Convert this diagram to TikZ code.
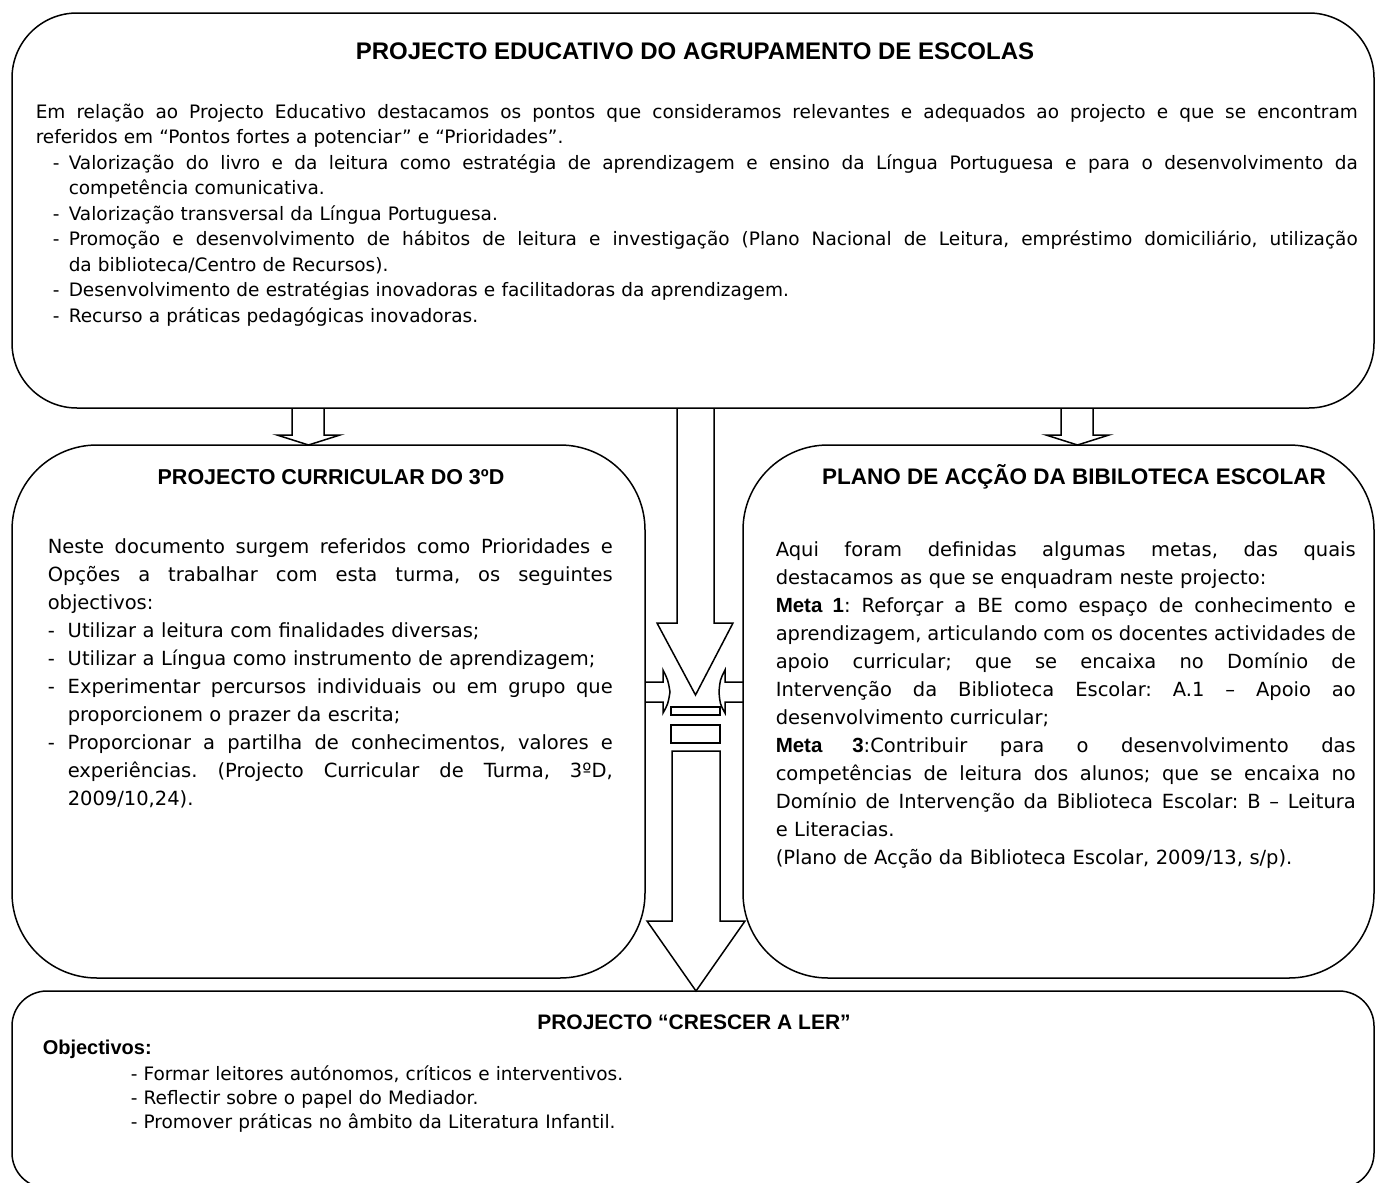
\documentclass[tikz,border=0pt]{standalone}
\usepackage{fontspec}
\setmainfont{DejaVu Sans}
\newfontfamily\arialfont{Liberation Sans}
\frenchspacing
\newcommand{\jl}[1]{\makebox[\linewidth][s]{\spaceskip=0pt\xspaceskip=0pt\relax#1}}
\newcommand{\dsh}[1]{\makebox[#1][l]{-}}
\newcommand{\meta}[1]{{\arialfont\bfseries\fontsize{20.5}{28}\selectfont #1}}
\begin{document}
\begin{tikzpicture}[x=1pt,y=-1pt,line width=1.5pt,line join=miter,
  ttl/.style={font=\arialfont\bfseries\fontsize{21.5}{25}\selectfont,inner sep=0pt,anchor=base},
  txt/.style={inner sep=0pt,anchor=base west,align=left,font=\fontsize{19.5}{28}\selectfont}]
\useasboundingbox (0,0) rectangle (1376,1183);
\draw[rounded corners=65pt](12,13) rectangle (1374,408);
\draw[rounded corners=85pt](12,445) rectangle (645,978);
\draw[rounded corners=85pt](743,445) rectangle (1374,978);
\draw[rounded corners=35pt](12,991) rectangle (1374,1188);
\draw(292,408)--(292,435)--(277,435)--(308.5,445)--(340,435)--(324,435)--(324,408);
\draw(1061,408)--(1061,435)--(1046,435)--(1077.5,445)--(1109,435)--(1093,435)--(1093,408);
\draw(677,408)--(677,623)--(657,623)--(695.5,695)--(733,623)--(714,623)--(714,408);
\draw(645,682)--(663,682)--(663,670) .. controls (668,680) .. (670,692) .. controls (668,704) .. (663,713)--(663,702)--(645,702);
\draw(743,682)--(725,682)--(725,670) .. controls (720,680) .. (719,692) .. controls (720,704) .. (725,713)--(725,702)--(743,702);
\draw(671,707) rectangle (720,715);
\draw(671,725) rectangle (720,743);
\draw(672,921)--(672,751)--(720,751)--(720,921)--(745,921)--(696,991)--(647,921)--cycle;
\node[ttl,font=\arialfont\bfseries\fontsize{24}{28}\selectfont] (tEdu) at (695,59) {PROJECTO EDUCATIVO DO AGRUPAMENTO DE ESCOLAS};
\node[txt,text width=1322pt,font=\fontsize{18.5}{25.5}\selectfont] (bEdu) at (35,118) {%
\jl{Em relação ao Projecto Educativo destacamos os pontos que consideramos relevantes e adequados ao projecto e que se encontram}\\
referidos em “Pontos fortes a potenciar” e “Prioridades”.\\
\jl{\hspace*{17pt}\dsh{16pt}Valorização do livro e da leitura como estratégia de aprendizagem e ensino da Língua Portuguesa e para o desenvolvimento da}\\
\hspace*{33pt}competência comunicativa.\\
\hspace*{17pt}\dsh{16pt}Valorização transversal da Língua Portuguesa.\\
\jl{\hspace*{17pt}\dsh{16pt}Promoção e desenvolvimento de hábitos de leitura e investigação (Plano Nacional de Leitura, empréstimo domiciliário, utilização}\\
\hspace*{33pt}da biblioteca/Centro de Recursos).\\
\hspace*{17pt}\dsh{16pt}Desenvolvimento de estratégias inovadoras e facilitadoras da aprendizagem.\\
\hspace*{17pt}\dsh{16pt}Recurso a práticas pedagógicas inovadoras.};
\node[ttl] (tCur) at (331,484.5) {PROJECTO CURRICULAR DO 3ºD};
\node[txt,text width=565pt] (bCur) at (47,553) {%
\jl{Neste documento surgem referidos como Prioridades e}\\
\jl{Opções a trabalhar com esta turma, os seguintes}\\
objectivos:\\
\dsh{20pt}Utilizar a leitura com finalidades diversas;\\
\dsh{20pt}Utilizar a Língua como instrumento de aprendizagem;\\
\jl{\dsh{20pt}Experimentar percursos individuais ou em grupo que}\\
\hspace*{20pt}proporcionem o prazer da escrita;\\
\jl{\dsh{20pt}Proporcionar a partilha de conhecimentos, valores e}\\
\jl{\hspace*{20pt}experiências. (Projecto Curricular de Turma, 3ºD,}\\
\hspace*{20pt}2009/10,24).};
\node[ttl,font=\arialfont\bfseries\fontsize{22.5}{26}\selectfont] (tPlano) at (1074,484.5) {PLANO DE ACÇÃO DA BIBILOTECA ESCOLAR};
\node[txt,text width=580pt] (bPlano) at (775,556) {%
\jl{Aqui foram definidas algumas metas, das quais}\\
destacamos as que se enquadram neste projecto:\\
\jl{\meta{Meta 1}: Reforçar a BE como espaço de conhecimento e}\\
\jl{aprendizagem, articulando com os docentes actividades de}\\
\jl{apoio curricular; que se encaixa no Domínio de}\\
\jl{Intervenção da Biblioteca Escolar: A.1 – Apoio ao}\\
desenvolvimento curricular;\\
\jl{\meta{Meta 3}:Contribuir para o desenvolvimento das}\\
\jl{competências de leitura dos alunos; que se encaixa no}\\
\jl{Domínio de Intervenção da Biblioteca Escolar: B – Leitura}\\
e Literacias.\\
(Plano de Acção da Biblioteca Escolar, 2009/13, s/p).};
\node[ttl,font=\arialfont\bfseries\fontsize{21}{25}\selectfont] (tLer) at (694,1029.5) {PROJECTO “CRESCER A LER”};
\node[ttl,anchor=base west,font=\arialfont\bfseries\fontsize{20}{24}\selectfont] (oLer) at (42,1054) {Objectivos:};
\node[txt,text width=1100pt,font=\fontsize{18.5}{24}\selectfont] (bLer) at (130,1080) {%
- Formar leitores autónomos, críticos e interventivos.\\
- Reflectir sobre o papel do Mediador.\\
- Promover práticas no âmbito da Literatura Infantil.};
\end{tikzpicture}
\end{document}
